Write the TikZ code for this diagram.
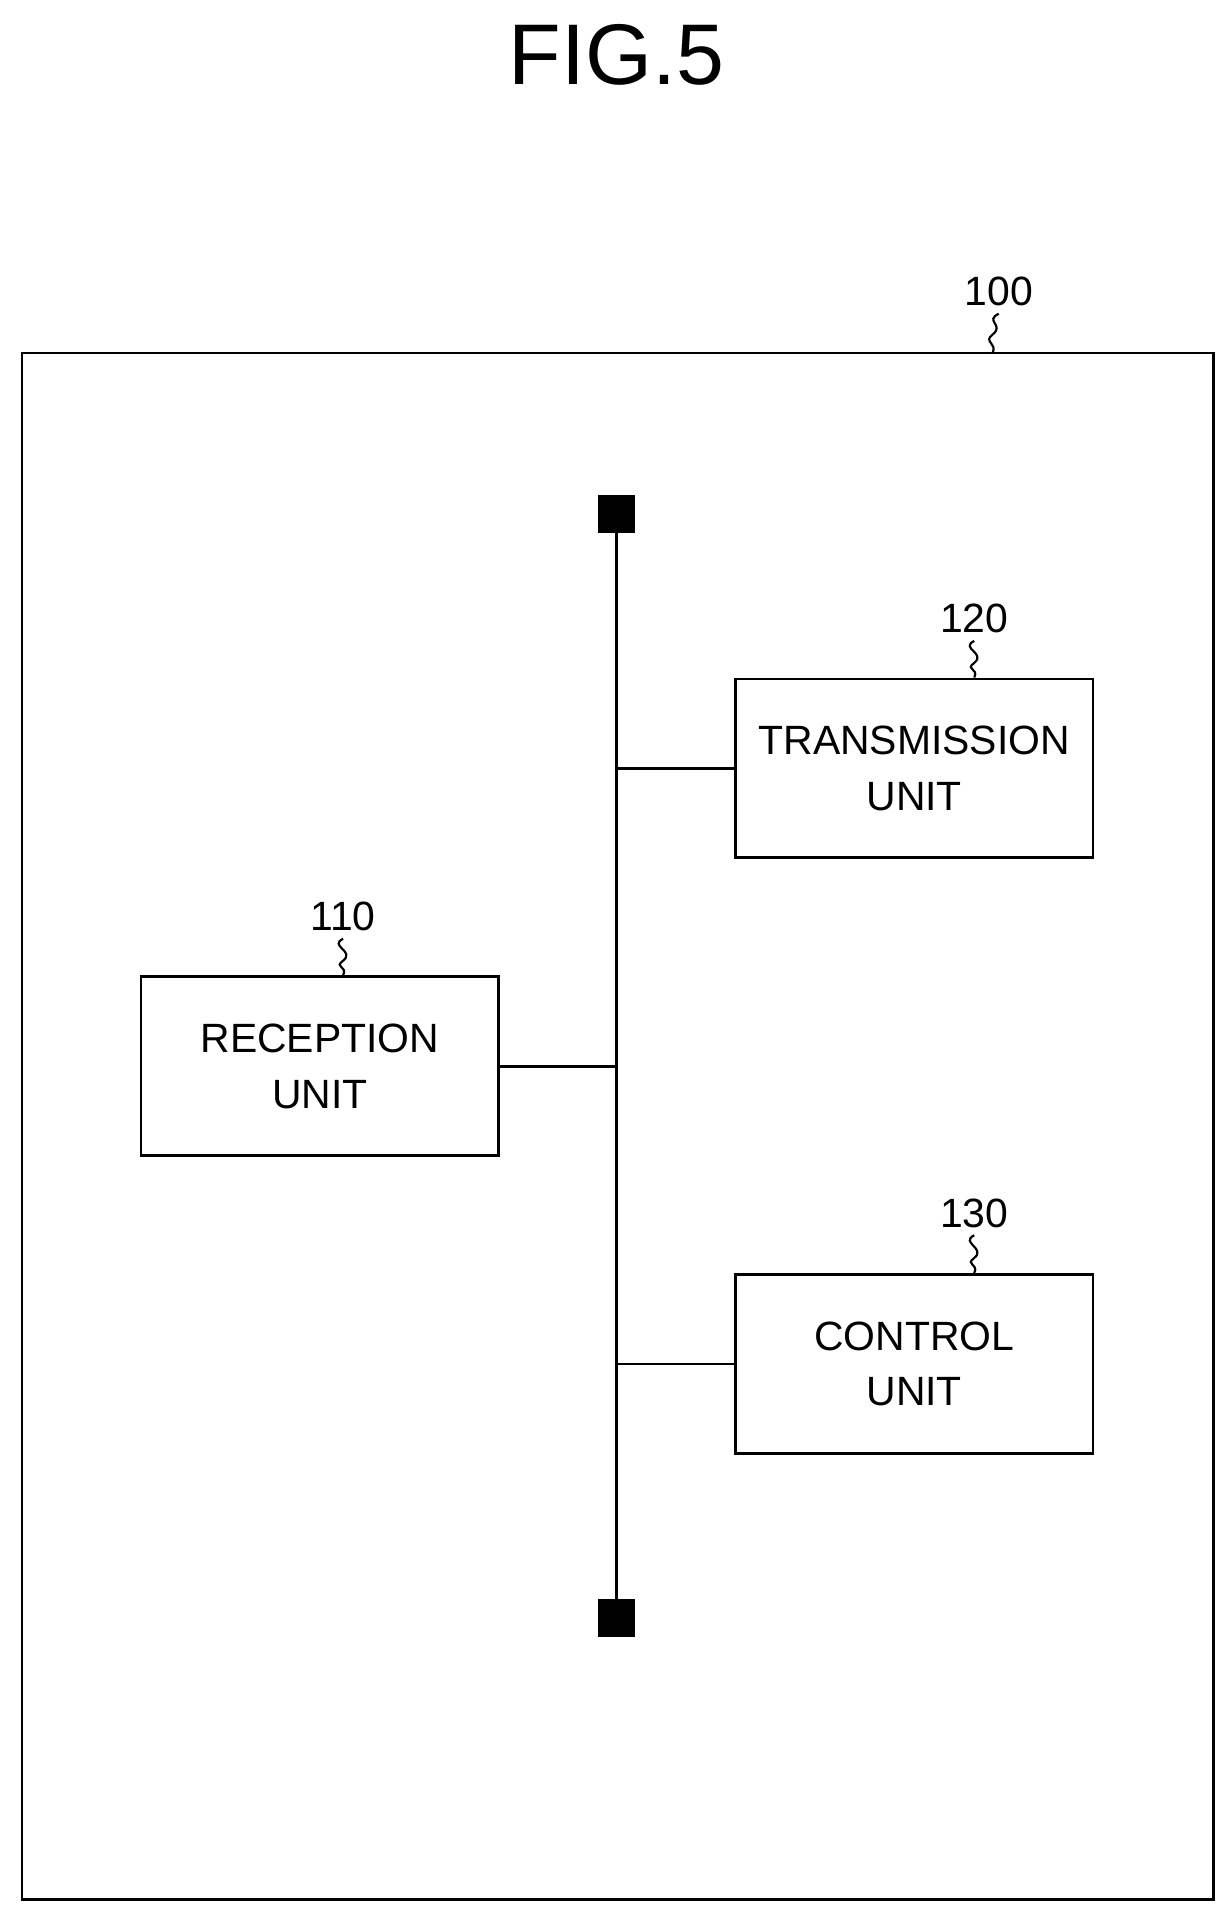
\documentclass[tikz,border=0pt]{standalone}
\usepackage{fontspec}
\setmainfont{Liberation Sans}
\usetikzlibrary{positioning,calc}
\tikzset{
  unit/.style={draw, line width=1.3pt, minimum width=5.84cm, minimum height=2.92cm,
    align=center, font=\fontsize{19}{26}\selectfont},
  refnum/.style={font=\fontsize{19}{22}\selectfont},
  link/.style={line width=1.3pt}
}
\begin{document}
\begin{tikzpicture}[x=0.02cm,y=-0.02cm]
\useasboundingbox (0,0) rectangle (1000,1557);
\node (title) at (503,45) {\fontsize{40}{44}\selectfont FIG.5};
% outer apparatus
\draw [link] (18,288) rectangle (990,1550);
\node [refnum] (n100) at (815,238) {100};
\draw [line width=1pt] (n100.south) .. controls +(-12,6) and +(10,-8) .. (810,273) .. controls +(-8,6) and +(4,-8) .. (810,288);
% bus
\coordinate (bustop) at (503,420);
\coordinate (busbot) at (503,1320);
\draw [link] (bustop) -- (busbot);
\fill (488,404) rectangle (518,435);
\fill (488,1305) rectangle (518,1336);
% units
\node [unit] (tx) at (746,627) {TRANSMISSION\\UNIT};
\node [unit] (rx) at (261,870) {RECEPTION\\UNIT};
\node [unit] (ctl) at (746,1113) {CONTROL\\UNIT};
\node [refnum] (n120) at (795,505) {120};
\node [refnum] (n110) at (280,748) {110};
\node [refnum] (n130) at (795,990) {130};
\foreach \n/\b in {n120/tx, n110/rx, n130/ctl}
  \draw [line width=1pt] (\n.south) .. controls +(-12,6) and +(10,-8) .. ($(\n.south)!0.6!(\n.south |- \b.north)$) .. controls +(-8,6) and +(4,-8) .. (\n.south |- \b.north);
% connectors
\draw [link] (tx.west) -- (503,627);
\draw [link] (rx.east) -- (503,870);
\draw [link] (ctl.west) -- (503,1113);
\end{tikzpicture}
\end{document}
